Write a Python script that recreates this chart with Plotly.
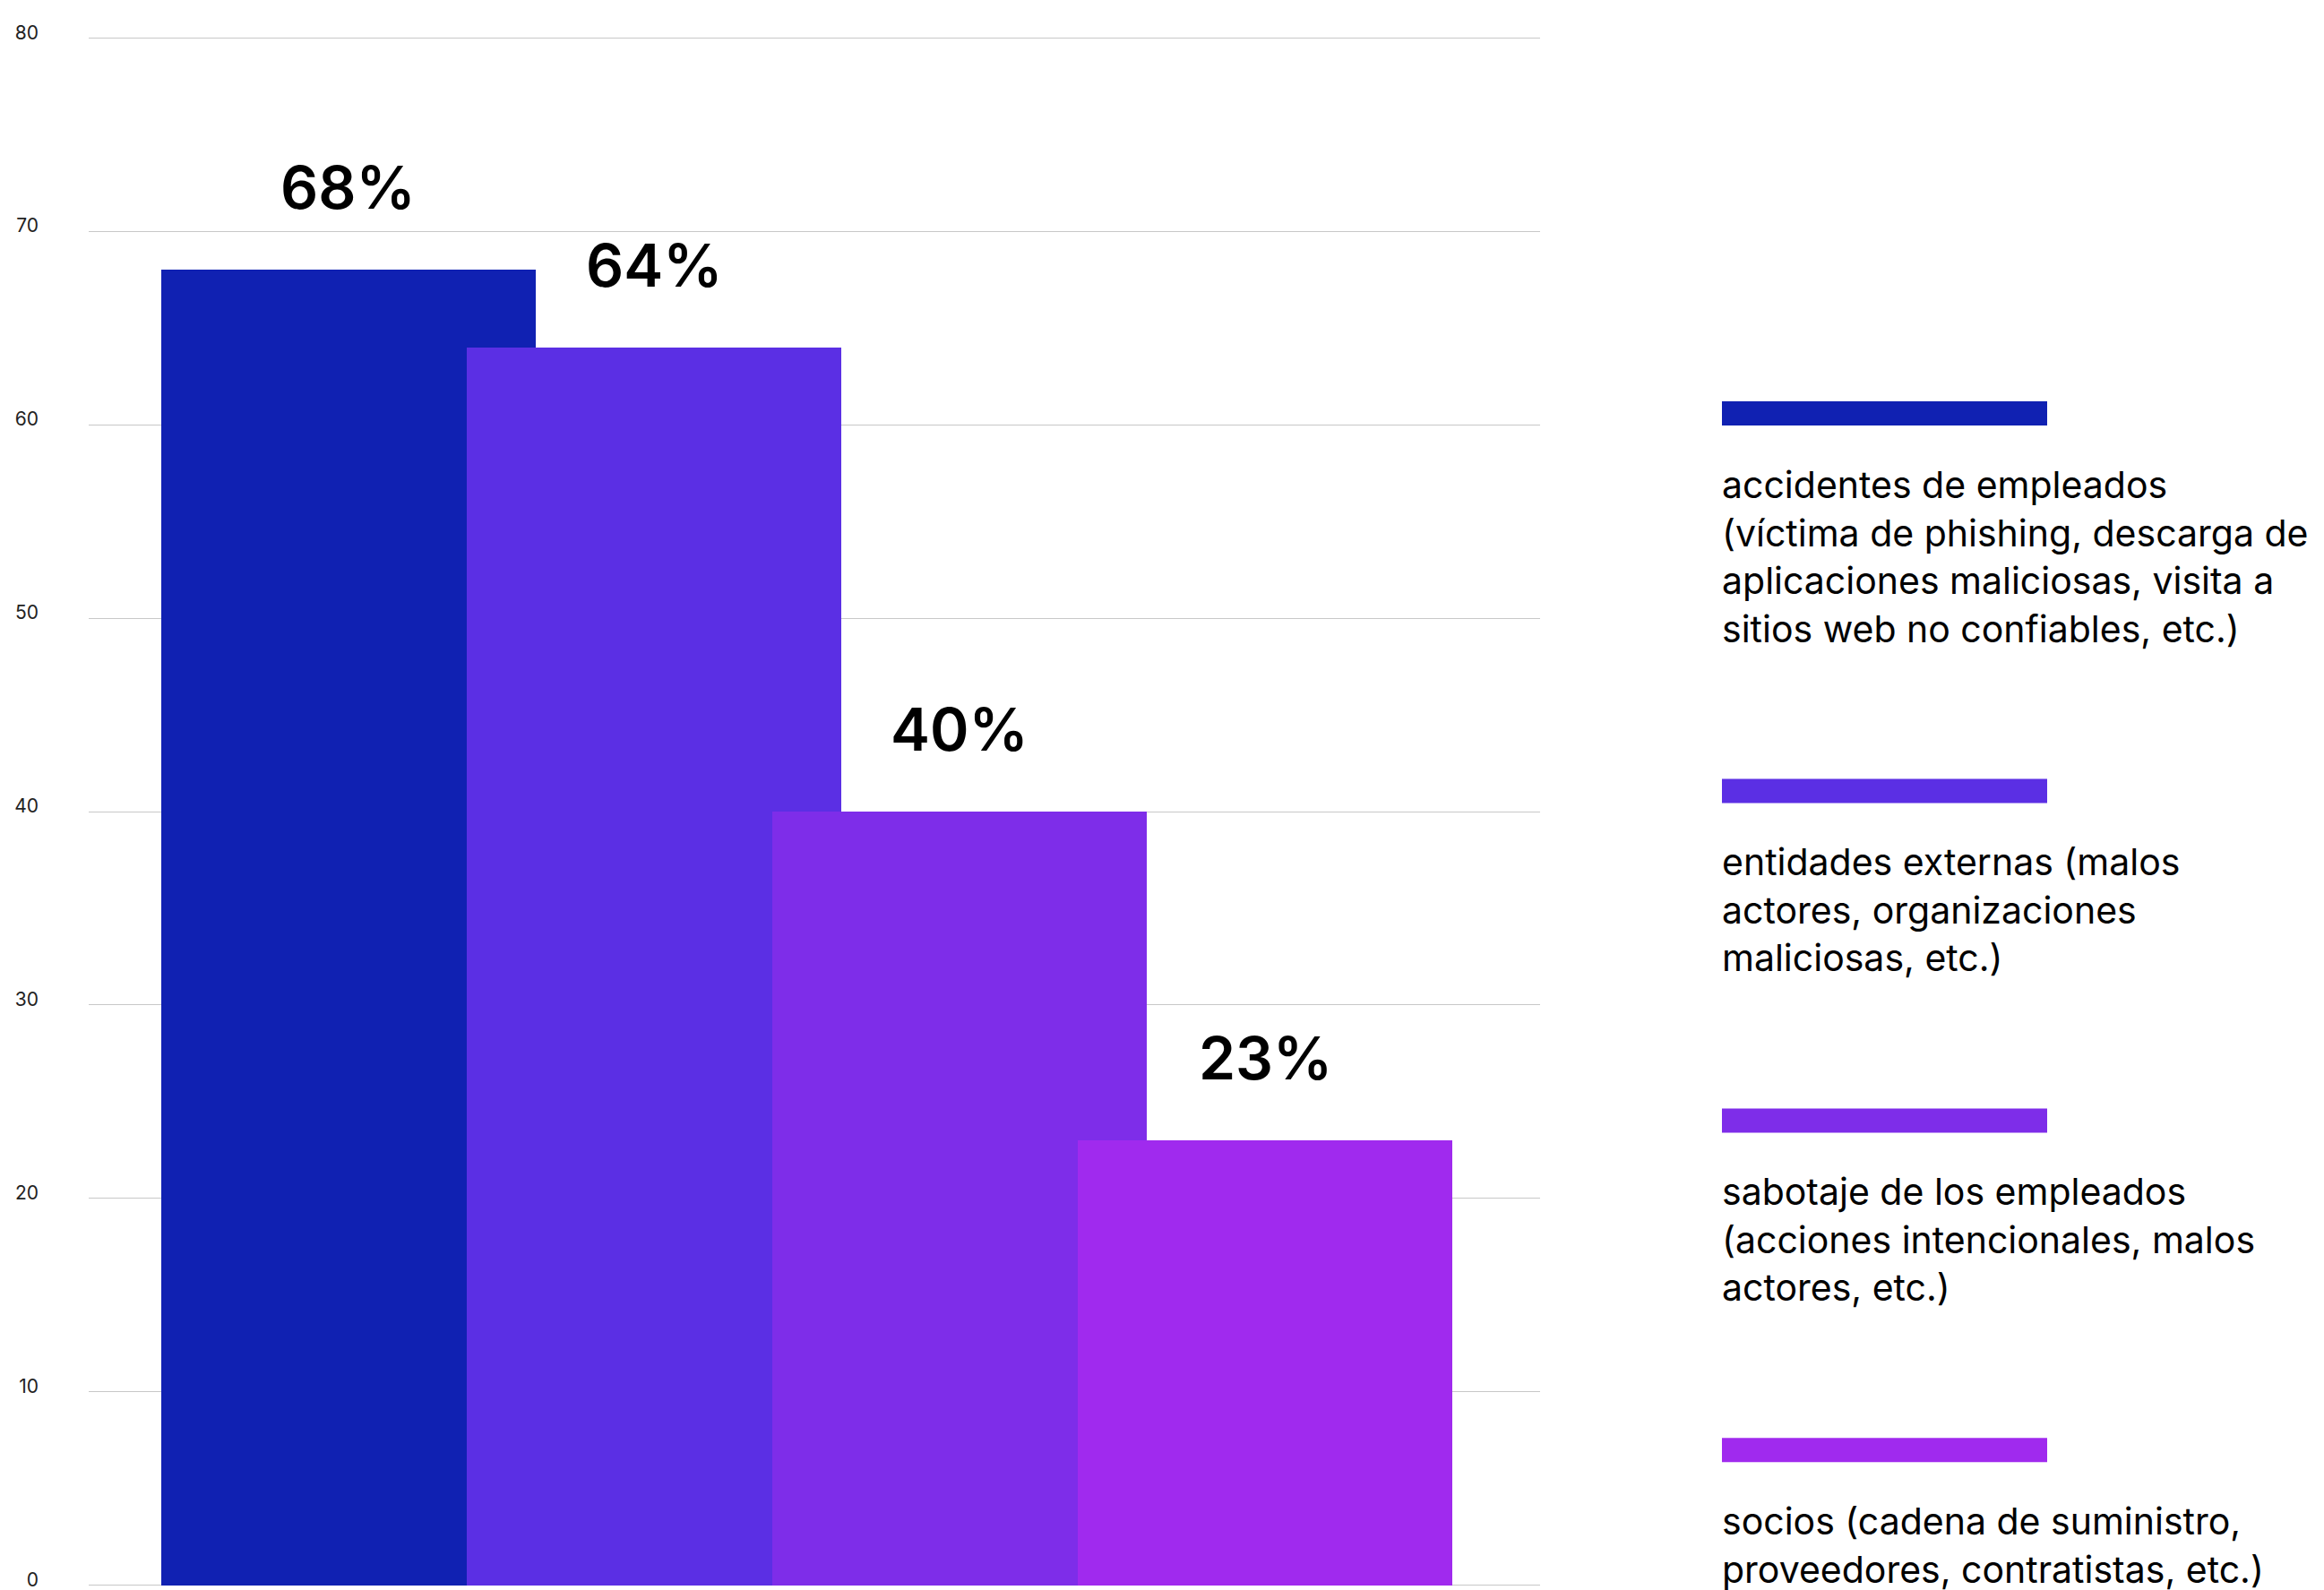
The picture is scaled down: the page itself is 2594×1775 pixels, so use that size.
import plotly.graph_objects as go

# ---- data ----
categories = [
    "accidentes de empleados",
    "entidades externas",
    "sabotaje de los empleados",
    "socios",
]
values = [68, 64, 40, 23]
value_labels = ["68%", "64%", "40%", "23%"]
legend_labels = [
    "accidentes de empleados<br>(víctima de phishing, descarga de<br>aplicaciones maliciosas, visita a<br>sitios web no confiables, etc.)",
    "entidades externas (malos<br>actores, organizaciones<br>maliciosas, etc.)",
    "sabotaje de los empleados<br>(acciones intencionales, malos<br>actores, etc.)",
    "socios (cadena de suministro,<br>proveedores, contratistas, etc.)",
]
y_ticks = [0, 10, 20, 30, 40, 50, 60, 70, 80]
bar_colors = ["#1021B2", "#5B2FE4", "#7E2DE9", "#A02AEE"]

# ---- canvas geometry (pixels) ----
W, H = 2594, 1775
PL, PR = 99, 1719
Y0_PX, Y80_PX = 1770, 42          # pixel rows of the 0 and 80 gridlines
PAD = 0.1                          # small axis padding so edge gridlines render
UNIT = (Y0_PX - Y80_PX) / 80.0
PT = Y80_PX - PAD * UNIT
PB = Y0_PX + PAD * UNIT


def px_x(x):
    return (x - PL) / (PR - PL)


def px_y(y):
    return (PB - y) / (PB - PT)


fig = go.Figure()
fig.add_trace(
    go.Bar(
        x=categories,
        y=values,
        width=1.226,
        marker=dict(color=bar_colors, line=dict(width=0)),
        hoverinfo="skip",
        showlegend=False,
    )
)

# value labels above each bar
for cat, v, lab in zip(categories, values, value_labels):
    fig.add_annotation(
        x=cat, y=v, xref="x", yref="y",
        text=lab, showarrow=False,
        yanchor="bottom", xanchor="center", yshift=50,
        font=dict(family="Inter", size=66, color="#000000", weight=600),
    )

# custom legend: swatch above a multi-line description
swatch_top = 448
sw_h = 27
line_gap = 53.5
for lab, col in zip(legend_labels, bar_colors):
    fig.add_shape(
        type="rect", xref="paper", yref="paper",
        x0=px_x(1922), x1=px_x(2285),
        y0=px_y(swatch_top + sw_h), y1=px_y(swatch_top),
        fillcolor=col, line=dict(width=0), layer="above",
    )
    lines = lab.split("<br>")
    y_line = swatch_top + 99
    for i, ln in enumerate(lines):
        fig.add_annotation(
            x=px_x(1920), y=px_y(y_line + i * line_gap - 6),
            xref="paper", yref="paper",
            text=ln, showarrow=False,
            xanchor="left", yanchor="middle",
            font=dict(family="Inter", size=41, color="#000000"),
        )
    swatch_top = y_line + (len(lines) - 1) * line_gap + 162

fig.update_layout(
    width=W, height=H,
    margin=dict(l=PL, r=W - PR, t=PT, b=H - PB, pad=0),
    paper_bgcolor="#ffffff",
    plot_bgcolor="#ffffff",
    bargap=0,
    xaxis=dict(
        range=[-0.85, 3.9],
        showticklabels=False,
        showgrid=False,
        zeroline=False,
        showline=False,
        ticks="",
        automargin=False,
    ),
    yaxis=dict(
        range=[-PAD, 80 + PAD],
        tickvals=y_ticks,
        ticktext=[str(t) for t in y_ticks],
        showgrid=True,
        gridcolor="#c8c8c8",
        gridwidth=1,
        zeroline=False,
        showline=False,
        ticks="",
        automargin=False,
        ticklabelstandoff=55,
        ticklabelshift=-6,
        ticklabeloverflow="allow",
        tickfont=dict(family="Inter", size=21, color="#222222"),
    ),
)

fig.write_html("out.html")
